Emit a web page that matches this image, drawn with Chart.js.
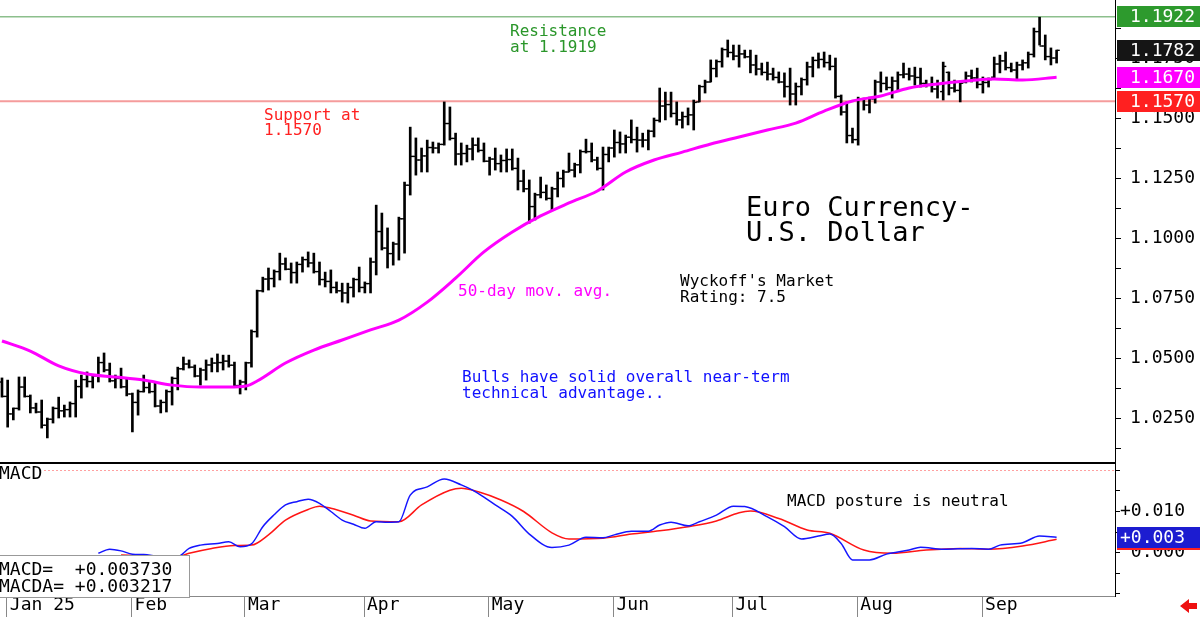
<!DOCTYPE html>
<html>
<head>
<meta charset="utf-8">
<script src="https://cdn.jsdelivr.net/npm/chart.js@4/dist/chart.umd.min.js"></script>
<style>
  html, body { margin: 0; padding: 0; background: #fff; overflow: hidden; }
  #wrap { position: relative; width: 1200px; height: 617px; }
  canvas { position: absolute; left: 0; display: block; }
  #price { top: 0; }
  #macd { top: 462px; }
</style>
</head>
<body>
<div id="wrap">
  <canvas id="price" width="1200" height="462"></canvas>
  <canvas id="macd" width="1200" height="155"></canvas>
</div>
<script>
// daily bars, index 0 = Dec 31 2024
const highs = [
  1.0417,1.0408,1.0292,1.0421,1.0421,1.0346,1.0312,1.0325,1.0250,1.0296,
  1.0337,1.0304,1.0317,1.0408,1.0429,1.0442,1.0429,1.0504,1.0521,1.0479,
  1.0429,1.0458,1.0417,1.0354,1.0367,1.0429,1.0400,1.0396,1.0325,1.0367,
  1.0421,1.0462,1.0504,1.0492,1.0471,1.0458,1.0492,1.0500,1.0517,1.0512,
  1.0512,1.0483,1.0408,1.0483,1.0617,1.0783,1.0837,1.0875,1.0867,1.0937,
  1.0917,1.0896,1.0900,1.0921,1.0942,1.0937,1.0900,1.0858,1.0867,1.0817,
  1.0812,1.0812,1.0833,1.0879,1.0817,1.0917,1.1137,1.1104,1.1042,1.0983,
  1.1087,1.1233,1.1462,1.1417,1.1375,1.1408,1.1400,1.1396,1.1567,1.1546,
  1.1437,1.1396,1.1387,1.1417,1.1417,1.1396,1.1337,1.1375,1.1346,1.1371,
  1.1371,1.1333,1.1283,1.1242,1.1187,1.1254,1.1221,1.1212,1.1275,1.1283,
  1.1354,1.1312,1.1367,1.1412,1.1396,1.1337,1.1379,1.1379,1.1450,1.1442,
  1.1429,1.1492,1.1462,1.1437,1.1450,1.1500,1.1625,1.1608,1.1608,1.1567,
  1.1525,1.1542,1.1575,1.1637,1.1658,1.1742,1.1742,1.1792,1.1825,1.1804,
  1.1804,1.1783,1.1783,1.1762,1.1729,1.1733,1.1708,1.1692,1.1688,1.1708,
  1.1646,1.1667,1.1733,1.1754,1.1771,1.1775,1.1762,1.1750,1.1596,1.1567,
  1.1458,1.1587,1.1583,1.1587,1.1658,1.1692,1.1671,1.1671,1.1692,1.1729,
  1.1708,1.1712,1.1708,1.1658,1.1671,1.1658,1.1733,1.1692,1.1658,1.1650,
  1.1692,1.1700,1.1708,1.1671,1.1667,1.1754,1.1762,1.1775,1.1729,1.1733,
  1.1742,1.1775,1.1875,1.1920,1.1846,1.1792,1.1783
];
const lows = [
  1.0337,1.0212,1.0242,1.0283,1.0337,1.0271,1.0271,1.0208,1.0167,1.0229,
  1.0250,1.0254,1.0254,1.0254,1.0333,1.0379,1.0375,1.0400,1.0442,1.0400,
  1.0375,1.0375,1.0342,1.0192,1.0262,1.0358,1.0354,1.0296,1.0271,1.0275,
  1.0304,1.0367,1.0450,1.0458,1.0421,1.0387,1.0408,1.0442,1.0442,1.0450,
  1.0462,1.0379,1.0350,1.0367,1.0462,1.0587,1.0775,1.0783,1.0796,1.0825,
  1.0867,1.0812,1.0812,1.0858,1.0879,1.0854,1.0804,1.0796,1.0771,1.0771,
  1.0733,1.0729,1.0754,1.0775,1.0771,1.0771,1.0846,1.0950,1.0875,1.0887,
  1.0908,1.0937,1.1179,1.1262,1.1275,1.1275,1.1354,1.1354,1.1387,1.1408,
  1.1304,1.1304,1.1317,1.1325,1.1358,1.1317,1.1262,1.1283,1.1275,1.1275,
  1.1283,1.1200,1.1192,1.1062,1.1075,1.1167,1.1158,1.1117,1.1171,1.1212,
  1.1275,1.1254,1.1271,1.1354,1.1317,1.1283,1.1200,1.1317,1.1337,1.1354,
  1.1354,1.1396,1.1358,1.1379,1.1367,1.1421,1.1483,1.1492,1.1504,1.1471,
  1.1458,1.1471,1.1450,1.1567,1.1604,1.1650,1.1671,1.1712,1.1754,1.1742,
  1.1712,1.1750,1.1688,1.1679,1.1679,1.1658,1.1658,1.1646,1.1587,1.1554,
  1.1554,1.1596,1.1637,1.1671,1.1708,1.1712,1.1700,1.1583,1.1512,1.1396,
  1.1396,1.1387,1.1533,1.1521,1.1562,1.1608,1.1617,1.1583,1.1617,1.1667,
  1.1658,1.1637,1.1629,1.1629,1.1608,1.1583,1.1575,1.1596,1.1608,1.1567,
  1.1646,1.1650,1.1625,1.1604,1.1629,1.1667,1.1688,1.1700,1.1692,1.1658,
  1.1700,1.1708,1.1754,1.1804,1.1742,1.1721,1.1729
];
const opens = [
  1.0400,1.0340,1.0267,1.0290,1.0379,1.0340,1.0292,1.0275,1.0220,1.0245,
  1.0290,1.0280,1.0285,1.0310,1.0381,1.0410,1.0402,1.0425,1.0481,1.0450,
  1.0405,1.0415,1.0380,1.0350,1.0315,1.0360,1.0377,1.0360,1.0300,1.0315,
  1.0360,1.0415,1.0455,1.0475,1.0462,1.0425,1.0450,1.0471,1.0479,1.0481,
  1.0487,1.0470,1.0385,1.0400,1.0480,1.0610,1.0780,1.0829,1.0831,1.0860,
  1.0892,1.0870,1.0856,1.0890,1.0910,1.0896,1.0860,1.0827,1.0819,1.0794,
  1.0780,1.0771,1.0794,1.0827,1.0794,1.0810,1.0900,1.1027,1.0958,1.0935,
  1.0975,1.1080,1.1220,1.1340,1.1325,1.1342,1.1377,1.1375,1.1390,1.1477,
  1.1415,1.1350,1.1352,1.1371,1.1387,1.1365,1.1320,1.1329,1.1310,1.1323,
  1.1327,1.1290,1.1237,1.1205,1.1131,1.1180,1.1190,1.1165,1.1205,1.1248,
  1.1275,1.1283,1.1305,1.1360,1.1360,1.1325,1.1290,1.1348,1.1375,1.1398,
  1.1392,1.1420,1.1410,1.1408,1.1408,1.1445,1.1490,1.1550,1.1556,1.1519,
  1.1492,1.1506,1.1513,1.1567,1.1631,1.1650,1.1706,1.1735,1.1785,1.1773,
  1.1758,1.1767,1.1755,1.1721,1.1704,1.1690,1.1683,1.1669,1.1650,1.1631,
  1.1600,1.1631,1.1660,1.1713,1.1740,1.1744,1.1731,1.1715,1.1590,1.1525,
  1.1427,1.1410,1.1580,1.1554,1.1580,1.1650,1.1644,1.1627,1.1654,1.1680,
  1.1683,1.1675,1.1669,1.1644,1.1640,1.1621,1.1610,1.1690,1.1625,1.1615,
  1.1650,1.1675,1.1667,1.1640,1.1648,1.1670,1.1725,1.1738,1.1710,1.1700,
  1.1721,1.1730,1.1765,1.1860,1.1800,1.1756,1.1750
];
const closes = [
  1.0340,1.0267,1.0290,1.0379,1.0340,1.0292,1.0275,1.0220,1.0245,1.0290,
  1.0280,1.0285,1.0310,1.0381,1.0410,1.0402,1.0425,1.0481,1.0450,1.0405,
  1.0415,1.0380,1.0350,1.0315,1.0360,1.0377,1.0360,1.0300,1.0315,1.0360,
  1.0415,1.0455,1.0475,1.0462,1.0425,1.0450,1.0471,1.0479,1.0481,1.0487,
  1.0470,1.0385,1.0400,1.0480,1.0610,1.0780,1.0829,1.0831,1.0860,1.0892,
  1.0870,1.0856,1.0890,1.0910,1.0896,1.0860,1.0827,1.0819,1.0794,1.0780,
  1.0771,1.0794,1.0827,1.0794,1.0810,1.0900,1.1027,1.0958,1.0935,1.0975,
  1.1080,1.1220,1.1340,1.1325,1.1342,1.1377,1.1375,1.1390,1.1477,1.1415,
  1.1350,1.1352,1.1371,1.1387,1.1365,1.1320,1.1329,1.1310,1.1323,1.1327,
  1.1290,1.1237,1.1205,1.1131,1.1180,1.1190,1.1165,1.1205,1.1248,1.1275,
  1.1283,1.1305,1.1360,1.1360,1.1325,1.1290,1.1348,1.1375,1.1398,1.1392,
  1.1420,1.1410,1.1408,1.1408,1.1445,1.1490,1.1550,1.1556,1.1519,1.1492,
  1.1506,1.1513,1.1565,1.1631,1.1650,1.1706,1.1735,1.1785,1.1773,1.1758,
  1.1767,1.1755,1.1721,1.1704,1.1690,1.1683,1.1669,1.1650,1.1631,1.1600,
  1.1631,1.1660,1.1713,1.1740,1.1744,1.1731,1.1715,1.1590,1.1525,1.1427,
  1.1410,1.1580,1.1554,1.1580,1.1650,1.1644,1.1627,1.1654,1.1680,1.1683,
  1.1675,1.1669,1.1644,1.1640,1.1621,1.1640,1.1715,1.1625,1.1615,1.1645,
  1.1675,1.1667,1.1640,1.1648,1.1660,1.1725,1.1738,1.1710,1.1700,1.1721,
  1.1730,1.1765,1.1860,1.1800,1.1756,1.1750,1.1782
];

// 50-day moving average, read every few bars
const maIdx  = [0, 5, 10, 15, 20, 25, 30, 35, 40, 43, 45, 50, 55, 60, 65, 70, 75, 80, 85, 90,
                95, 100, 105, 110, 115, 120, 125, 130, 135, 140, 145, 150, 155, 160, 165, 170, 175, 180, 186];
const maVals = [1.0571, 1.0529, 1.0467, 1.0433, 1.0421, 1.0408, 1.0387, 1.0379, 1.0379, 1.0383, 1.0404,
                1.0479, 1.0533, 1.0575, 1.0617, 1.0658, 1.0733, 1.0833, 1.0942, 1.1025, 1.1092, 1.1146,
                1.1196, 1.1275, 1.1325, 1.1358, 1.1392, 1.1421, 1.1450, 1.1479, 1.1529, 1.1571, 1.1592,
                1.1625, 1.1642, 1.1654, 1.1663, 1.1658, 1.1670];

// MACD and its average
const macdIdx  = [17, 19, 21, 23, 25, 28, 31, 33, 35, 38, 40, 42, 44, 46, 48, 50, 52, 54, 56, 58, 60, 62,
                  64, 66, 68, 70, 72, 75, 78, 81, 83, 85, 87, 90, 93, 97, 100, 103, 106, 108, 111, 114,
                  116, 118, 121, 123, 126, 129, 131, 135, 138, 141, 144, 146, 148, 150, 153, 156, 160,
                  162, 166, 171, 174, 176, 180, 183, 186];
const macdVals = [-0.0002, 0.0008, 0.0004, -0.0004, -0.0005, -0.0010, -0.0010, 0.0010, 0.0018, 0.0022,
                  0.0026, 0.0014, 0.0021, 0.0063, 0.0092, 0.0116, 0.0124, 0.0130, 0.0120, 0.0100, 0.0079,
                  0.0069, 0.0059, 0.0075, 0.0074, 0.0075, 0.0140, 0.0160, 0.0179, 0.0165, 0.0152, 0.0135,
                  0.0116, 0.0088, 0.0045, 0.0012, 0.0018, 0.0037, 0.0036, 0.0043, 0.0052, 0.0052, 0.0067,
                  0.0074, 0.0065, 0.0075, 0.0091, 0.0113, 0.0112, 0.0087, 0.0063, 0.0033, 0.0040, 0.0045,
                  0.0022, -0.0018, -0.0018, -0.0004, 0.0006, 0.0013, 0.0008, 0.0010, 0.0008, 0.0018,
                  0.0024, 0.0040, 0.003730];
const macdaIdx  = [21, 25, 28, 31, 33, 37, 41, 44, 47, 50, 54, 56, 58, 62, 65, 70, 74, 79, 81, 84, 88, 92,
                   97, 100, 106, 111, 116, 121, 126, 130, 132, 137, 142, 146, 152, 157, 163, 169, 174, 180, 186];
const macdaVals = [-0.0006, -0.0008, -0.0009, -0.0010, -0.0002, 0.0010, 0.0017, 0.0018, 0.0043, 0.0079,
                   0.0105, 0.0113, 0.0108, 0.0091, 0.0077, 0.0075, 0.0116, 0.0152, 0.0157, 0.0148, 0.0128,
                   0.0100, 0.0048, 0.0033, 0.0035, 0.0045, 0.0053, 0.0063, 0.0077, 0.0097, 0.0101, 0.0083,
                   0.0055, 0.0047, 0.0006, -0.0002, 0.0006, 0.0010, 0.0008, 0.0016, 0.003217];

const supportLevel = 1.1570;
const resistanceLevel = 1.1922;
const macdUpper = 0.020;

const priceTickLabels = ['1.0250', '1.0500', '1.0750', '1.1000', '1.1250', '1.1500', '1.1750'];
const macdTickLabels = ['+0.010', ' 0.000'];
const monthLabels = ['Jan 25', 'Feb', 'Mar', 'Apr', 'May', 'Jun', 'Jul', 'Aug', 'Sep'];
const monthStarts = [1, 23, 43, 64, 86, 108, 129, 151, 173];

const FONT = "'DejaVu Sans Mono', monospace";
const xMin = -0.35, xMax = 196.3;
const last = a => a[a.length - 1];

const matchLabel = (labels, v) => labels.find(l => Math.abs(parseFloat(l) - v) < 1e-7) || '';

const commonOpts = {
  responsive: false,
  animation: false,
  events: [],
  layout: { padding: 0, autoPadding: false },
  plugins: { legend: { display: false }, tooltip: { enabled: false } }
};

const priceNotes = {
  id: 'priceNotes',
  afterDraw(chart) {
    const { ctx, chartArea, scales: { y } } = chart;
    ctx.save();
    ctx.textBaseline = 'middle';
    ctx.textAlign = 'left';
    const note = (txt, x, yy, color, size) => {
      ctx.font = size + 'px ' + FONT;
      ctx.fillStyle = color;
      ctx.fillText(txt, x, yy);
    };
    note('Resistance', 510, 32, '#2a962a', 16);
    note('at 1.1919', 510, 48, '#2a962a', 16);
    note('Support at', 264, 116, '#ff2020', 16);
    note('1.1570', 264, 131, '#ff2020', 16);
    note('50-day mov. avg.', 458, 292, '#ff00ff', 16);
    note("Wyckoff's Market", 680, 282, '#000', 16);
    note('Rating: 7.5', 680, 298, '#000', 16);
    note('Euro Currency-', 746, 209, '#000', 27);
    note('U.S. Dollar', 746, 234, '#000', 27);
    note('Bulls have solid overall near-term', 462, 378, '#1010ff', 16);
    note('technical advantage..', 462, 394, '#1010ff', 16);

    const boxes = [
      [resistanceLevel, '#2d9a2d'],
      [last(closes), '#151515'],
      [last(maVals), '#ff00ff'],
      [supportLevel, '#ff2020']
    ];
    boxes.forEach(([v, c]) => {
      const py = y.getPixelForValue(v);
      ctx.fillStyle = c;
      ctx.fillRect(chartArea.right + 2, Math.round(py - 10.5), 85, 21);
      ctx.fillStyle = '#fff';
      ctx.font = '18px ' + FONT;
      ctx.fillText(v.toFixed(4), 1130, py + 1);
    });
    ctx.restore();
  }
};

new Chart(document.getElementById('price'), {
  type: 'bar',
  data: {
    datasets: [
      {
        type: 'line', label: '50-day mov. avg.',
        data: maIdx.map((x, k) => ({ x, y: maVals[k] })),
        borderColor: '#ff00ff', borderWidth: 3, pointRadius: 0,
        cubicInterpolationMode: 'monotone', order: 1
      },
      {
        type: 'line', label: 'open',
        data: opens.map((y, i) => ({ x: i - 0.27, y })),
        showLine: false, pointStyle: 'line', pointRadius: 1.6,
        pointBorderColor: '#000', pointBorderWidth: 1.4, order: 2
      },
      {
        type: 'line', label: 'close',
        data: closes.map((y, i) => ({ x: i + 0.27, y })),
        showLine: false, pointStyle: 'line', pointRadius: 1.6,
        pointBorderColor: '#000', pointBorderWidth: 1.4, order: 2
      },
      {
        type: 'bar', label: 'range',
        data: highs.map((h, i) => ({ x: i, y: [lows[i], h] })),
        backgroundColor: '#000', borderWidth: 0, barThickness: 2, order: 3
      },
      {
        type: 'line', label: 'support',
        data: [{ x: xMin, y: supportLevel }, { x: xMax, y: supportLevel }],
        borderColor: '#f59c9c', borderWidth: 2, pointRadius: 0, order: 5
      },
      {
        type: 'line', label: 'resistance',
        data: [{ x: xMin, y: resistanceLevel }, { x: xMax, y: resistanceLevel }],
        borderColor: '#8cbf8c', borderWidth: 1.5, pointRadius: 0, order: 5
      }
    ]
  },
  options: {
    ...commonOpts,
    scales: {
      x: { type: 'linear', min: xMin, max: xMax, offset: false, display: false },
      y: {
        position: 'right',
        min: 1.19917 - 462 / 2400,
        max: 1.19917,
        afterFit: s => { s.width = 85; s.paddingTop = 0; s.paddingBottom = 0; },
        afterBuildTicks: s => {
          const t = [];
          for (let v = 1.0125; v < 1.19; v += 0.0125) t.push({ value: +v.toFixed(4) });
          s.ticks = t;
        },
        ticks: {
          autoSkip: false,
          padding: 9,
          color: '#000',
          font: { family: FONT, size: 18 },
          callback: v => matchLabel(priceTickLabels, v)
        },
        grid: { drawOnChartArea: false, drawTicks: true, tickLength: 6, color: '#000' },
        border: { display: true, color: '#000', width: 1 }
      }
    }
  },
  plugins: [priceNotes]
});

const macdNotes = {
  id: 'macdNotes',
  afterDraw(chart) {
    const { ctx, chartArea, scales: { y } } = chart;
    ctx.save();
    // panel separator
    ctx.fillStyle = '#000';
    ctx.fillRect(0, 0, chartArea.right + 1, 2);

    ctx.textBaseline = 'middle';
    ctx.textAlign = 'left';
    ctx.font = '18px ' + FONT;
    ctx.fillStyle = '#fff';
    ctx.fillRect(0, 3, 44, 18);
    ctx.fillStyle = '#000';
    ctx.fillText('MACD', -1, 12);

    ctx.font = '16px ' + FONT;
    ctx.fillText('MACD posture is neutral', 787, 40);

    // legend box
    ctx.fillStyle = '#fff';
    ctx.fillRect(-1, 93, 191, 42);
    ctx.strokeStyle = '#999';
    ctx.lineWidth = 1;
    ctx.strokeRect(-0.5, 93.5, 190, 42);
    ctx.fillStyle = '#000';
    ctx.font = '18px ' + FONT;
    ctx.fillText('MACD=  +' + last(macdVals).toFixed(6), -1, 108);
    ctx.fillText('MACDA= +' + last(macdaVals).toFixed(6), -1, 125);

    // value boxes
    const boxes = [[last(macdaVals), '#ff2020'], [last(macdVals), '#1c1cd0']];
    boxes.forEach(([v, c]) => {
      const py = y.getPixelForValue(v);
      ctx.fillStyle = c;
      ctx.fillRect(chartArea.right + 2, Math.round(py - 10.5), 85, 21);
    });
    ctx.fillStyle = '#fff';
    ctx.fillText('+' + (Math.floor(last(macdVals) * 1000) / 1000).toFixed(3), 1120,
      y.getPixelForValue(last(macdVals)) + 1);

    // little red arrow, bottom right
    ctx.fillStyle = '#ee1111';
    ctx.beginPath();
    ctx.moveTo(1180, 144);
    ctx.lineTo(1189, 137);
    ctx.lineTo(1189, 141);
    ctx.lineTo(1197, 141);
    ctx.lineTo(1197, 147);
    ctx.lineTo(1189, 147);
    ctx.lineTo(1189, 151);
    ctx.closePath();
    ctx.fill();
    ctx.restore();
  }
};

new Chart(document.getElementById('macd'), {
  type: 'line',
  data: {
    datasets: [
      {
        label: 'MACD',
        data: macdIdx.map((x, k) => ({ x, y: macdVals[k] })),
        borderColor: '#1515ff', borderWidth: 1.5, pointRadius: 0,
        cubicInterpolationMode: 'monotone', order: 1
      },
      {
        label: 'MACDA',
        data: macdaIdx.map((x, k) => ({ x, y: macdaVals[k] })),
        borderColor: '#ff1515', borderWidth: 1.5, pointRadius: 0,
        cubicInterpolationMode: 'monotone', order: 2
      },
      {
        label: 'upper',
        data: [{ x: xMin, y: macdUpper }, { x: xMax, y: macdUpper }],
        borderColor: '#ffa0a0', borderWidth: 1, borderDash: [2, 2], pointRadius: 0, order: 3
      }
    ]
  },
  options: {
    ...commonOpts,
    scales: {
      x: {
        type: 'linear', min: xMin, max: xMax, offset: false, position: 'bottom',
        afterBuildTicks: s => { s.ticks = monthStarts.map(m => ({ value: m - 0.15 })); },
        afterFit: s => { s.height = 21; s.paddingLeft = 0; s.paddingRight = 0; },
        ticks: {
          autoSkip: false, maxRotation: 0, minRotation: 0,
          align: 'start', labelOffset: 3, padding: -22,
          color: '#000',
          font: { family: FONT, size: 18 },
          callback: (v, k) => monthLabels[k]
        },
        grid: { drawOnChartArea: false, drawTicks: true, tickLength: 21, color: '#888' },
        border: { display: true, color: '#888', width: 1 }
      },
      y: {
        position: 'right',
        min: (90.5 - 134) / 4100,
        max: 90.5 / 4100,
        afterFit: s => { s.width = 85; s.paddingTop = 0; s.paddingBottom = 0; },
        afterBuildTicks: s => {
          const t = [];
          for (let k = -2; k <= 4; k++) t.push({ value: k * 0.005 });
          s.ticks = t;
        },
        ticks: {
          autoSkip: false,
          padding: 0,
          color: '#000',
          font: { family: FONT, size: 18 },
          callback: v => matchLabel(macdTickLabels, v)
        },
        grid: { drawOnChartArea: false, drawTicks: true, tickLength: 5, color: '#000' },
        border: { display: true, color: '#000', width: 1 }
      }
    }
  },
  plugins: [macdNotes]
});
</script>
</body>
</html>
